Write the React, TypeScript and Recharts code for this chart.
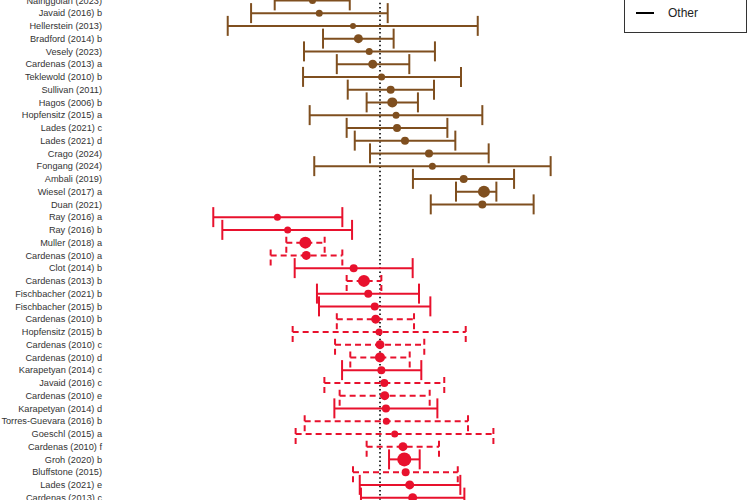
import { ScatterChart, Scatter, XAxis, YAxis, ErrorBar, ReferenceLine } from 'recharts';

// study labels, top to bottom
const studies = [
  'Nainggolan (2023)', 'Javaid (2016) b', 'Hellerstein (2013)', 'Bradford (2014) b', 'Vesely (2023)',
  'Cardenas (2013) a', 'Teklewold (2010) b', 'Sullivan (2011)', 'Hagos (2006) b', 'Hopfensitz (2015) a',
  'Lades (2021) c', 'Lades (2021) d', 'Crago (2024)', 'Fongang (2024)', 'Ambali (2019)',
  'Wiesel (2017) a', 'Duan (2021)', 'Ray (2016) a', 'Ray (2016) b', 'Muller (2018) a',
  'Cardenas (2010) a', 'Clot (2014) b', 'Cardenas (2013) b', 'Fischbacher (2021) b', 'Fischbacher (2015) b',
  'Cardenas (2010) b', 'Hopfensitz (2015) b', 'Cardenas (2010) c', 'Cardenas (2010) d', 'Karapetyan (2014) c',
  'Javaid (2016) c', 'Cardenas (2010) e', 'Karapetyan (2014) d', 'Torres-Guevara (2016) b', 'Goeschl (2015) a',
  'Cardenas (2010) f', 'Groh (2020) b', 'Bluffstone (2015)', 'Lades (2021) e', 'Cardenas (2013) c'
];

// effect estimates and confidence limits
const estimate = [
  -0.5, -0.45, -0.2, -0.16, -0.08, -0.054, 0.012, 0.079, 0.091, 0.119,
  0.126, 0.185, 0.363, 0.388, 0.62, 0.77, 0.758, -0.76, -0.684, -0.553,
  -0.546, -0.195, -0.119, -0.087, -0.039, -0.032, -0.007, 0.0, 0.0, 0.01,
  0.032, 0.035, 0.044, 0.047, 0.109, 0.17, 0.18, 0.19, 0.22, 0.242
];
const lower = [
  -0.78, -0.955, -1.128, -0.422, -0.563, -0.32, -0.57, -0.239, -0.099, -0.521,
  -0.247, -0.187, -0.074, -0.487, 0.244, 0.563, 0.376, -1.235, -1.168, -0.694,
  -0.81, -0.632, -0.247, -0.467, -0.452, -0.32, -0.647, -0.333, -0.22, -0.281,
  -0.412, -0.299, -0.338, -0.558, -0.625, -0.099, 0.067, -0.2, -0.15, -0.141
];
const upper = [
  -0.224, 0.057, 0.724, 0.101, 0.407, 0.217, 0.6, 0.4, 0.281, 0.758,
  0.499, 0.558, 0.805, 1.264, 0.993, 0.862, 1.138, -0.279, -0.207, -0.41,
  -0.279, 0.242, 0.01, 0.289, 0.373, 0.252, 0.635, 0.328, 0.22, 0.306,
  0.476, 0.368, 0.425, 0.652, 0.84, 0.437, 0.294, 0.576, 0.595, 0.625
];
// marker radius (study weight)
const weight = [
  3.5, 3.5, 3, 4.5, 3.5, 4.5, 3.5, 4, 5, 3.5,
  4, 4, 4, 3.5, 4, 6, 4, 3.5, 3.5, 6,
  4.5, 4, 6, 4, 4, 4.5, 3.5, 4.5, 5, 4,
  4, 4.5, 4, 3.5, 3.5, 4.5, 7, 4, 4.5, 4.5
];
// 'b' = brown group, 's' = red solid, 'd' = red dashed
const group = [
  'b', 'b', 'b', 'b', 'b', 'b', 'b', 'b', 'b', 'b',
  'b', 'b', 'b', 'b', 'b', 'b', 'b', 's', 's', 'd',
  'd', 's', 'd', 's', 's', 'd', 'd', 'd', 'd', 's',
  'd', 'd', 's', 'd', 'd', 'd', 's', 'd', 's', 's'
];

const BROWN = '#7f4f1f';
const RED = '#e8112d';
const FONT = 'Liberation Sans, Arial, sans-serif';

const rows = studies.map((name, i) => ({
  row: i,
  name,
  est: estimate[i],
  err: [estimate[i] - lower[i], upper[i] - estimate[i]],
  r: weight[i],
  g: group[i]
}));

const brownRows = rows.filter(d => d.g === 'b');
const solidRows = rows.filter(d => d.g === 's');
const dashedRows = rows.filter(d => d.g === 'd');

function Dot(props: any) {
  const { cx, cy, payload, fill } = props;
  if (cx == null || cy == null) return null;
  return <circle cx={cx} cy={cy} r={payload.r} fill={fill} />;
}

function StudyTick(props: any) {
  const { x, y, payload } = props;
  return (
    <text x={x} y={y} dy="0.35em" textAnchor="end" fontSize={9.2} fill="#333" fontFamily={FONT}>
      {studies[payload.value] ?? ''}
    </text>
  );
}

export default function App() {
  return (
    <div style={{ position: 'fixed', left: 0, top: 0, width: 750, height: 500, overflow: 'hidden', background: '#fff' }}>
      <div style={{ position: 'absolute', left: 0, top: -6.4 }}>
        <ScatterChart width={750} height={510} margin={{ top: 0, right: 100, bottom: 0, left: 0 }}>
          <XAxis type="number" dataKey="est" domain={[-2, 2]} hide allowDataOverflow />
          <YAxis
            type="number"
            dataKey="row"
            domain={[-0.5, 39.5]}
            reversed
            width={110}
            ticks={rows.map(d => d.row)}
            interval={0}
            axisLine={false}
            tickLine={false}
            tick={<StudyTick />}
          />
          <ReferenceLine x={0} stroke="#000" strokeWidth={1.6} strokeDasharray="1.5 2.7" />
          <Scatter data={brownRows} dataKey="est" fill={BROWN} shape={<Dot />} isAnimationActive={false}>
            <ErrorBar dataKey="err" direction="x" width={10} stroke={BROWN} strokeWidth={2} />
          </Scatter>
          <Scatter data={solidRows} dataKey="est" fill={RED} shape={<Dot />} isAnimationActive={false}>
            <ErrorBar dataKey="err" direction="x" width={10} stroke={RED} strokeWidth={2} />
          </Scatter>
          <Scatter data={dashedRows} dataKey="est" fill={RED} shape={<Dot />} isAnimationActive={false}>
            <ErrorBar dataKey="err" direction="x" width={10} stroke={RED} strokeWidth={2} strokeDasharray="6 4" />
          </Scatter>
        </ScatterChart>
      </div>
      <div
        style={{
          position: 'absolute', left: 624, top: -20, width: 121, height: 51,
          border: '1px solid #333', background: '#fff',
          fontFamily: FONT, fontSize: 12, color: '#222'
        }}
      >
        <div style={{ position: 'absolute', left: 11, top: 31, width: 18, height: 2, background: '#000' }} />
        <div style={{ position: 'absolute', left: 43, top: 24, lineHeight: '16px' }}>Other</div>
      </div>
    </div>
  );
}
